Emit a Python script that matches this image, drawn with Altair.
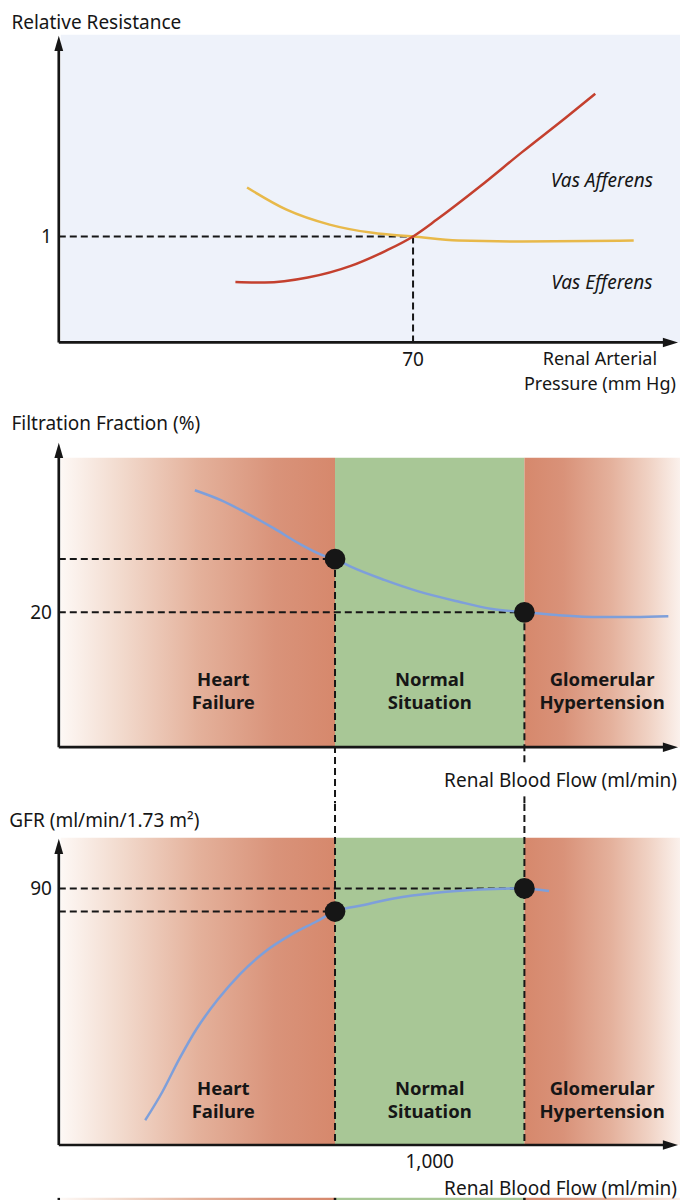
import altair as alt
import pandas as pd

# ================= values =================
# Panel A - relative resistance vs renal arterial pressure (mm Hg)
aff_pressure = [34.9, 40.7, 49.2, 57.7, 64.5, 70.0, 74.7, 83.2, 91.6, 100.1, 106.0]
aff_resistance = [0.571, 0.565, 0.612, 0.722, 0.862, 1.000, 1.159, 1.471, 1.798, 2.118, 2.346]
eff_pressure = [37.2, 45.0, 53.5, 62.0, 70.0, 78.9, 91.6, 113.6]
eff_resistance = [1.462, 1.253, 1.112, 1.034, 1.000, 0.962, 0.953, 0.962]
ref_pressure = 70
ref_resistance = 1

# Panel B - filtration fraction (%) vs renal blood flow (ml/min)
ff_flow = [380, 450, 520, 590, 655, 725, 750, 790, 880, 970, 1075, 1165, 1250, 1335, 1450, 1540, 1630]
ff_value = [38.1, 36.6, 34.6, 32.4, 30.2, 28.3, 27.9, 26.8, 24.8, 23.1, 21.6, 20.5, 20.0, 19.6, 19.3, 19.3, 19.4]

# Panel C - GFR (ml/min/1.73 m2) vs renal blood flow (ml/min)
gfr_flow = [249, 294, 339, 384, 441, 498, 566, 633, 701, 750, 826, 905, 1018, 1131, 1250, 1315]
gfr_value = [8.7, 18.6, 30.2, 40.6, 51.1, 59.8, 67.9, 73.7, 78.4, 81.9, 84.2, 86.5, 88.5, 89.6, 90.0, 89.1]

zone_bounds = [750, 1250]
zone_labels = ["Heart\nFailure", "Normal\nSituation", "Glomerular\nHypertension"]
zone_label_flow = [455, 1000, 1455]
marker_flow = [750, 1250]
marker_ff = [27.9, 20.0]
marker_gfr = [81.9, 90.0]
ff_tick = 20
gfr_tick = 90
flow_tick = 1000

# ================= layout / style =================
REF_W, REF_H = 688.0, 1200.0
W, H = 672.0, 1192.0
KX, KY = W / REF_W, H / REF_H
FONT = "Noto Sans"
INK = "#161616"
BG_A = "#eef2fa"
GREEN = "#a8c796"
BLUE = "#7e9fda"
RED = "#c4402e"
GOLD = "#e8b94a"
DASH = [7, 4]
UP = "M0,0L0.55,1.9L-0.55,1.9Z"
RIGHT = "M0,0L-1.9,-0.6L-1.9,0.6Z"

LEFT_GRAD = alt.Gradient(gradient="linear", x1=0, x2=1, y1=0, y2=0, stops=[
    alt.GradientStop(offset=0, color="#fdf8f5"),
    alt.GradientStop(offset=0.22, color="#f2dacd"),
    alt.GradientStop(offset=0.5, color="#e4b19b"),
    alt.GradientStop(offset=0.78, color="#d9937a"),
    alt.GradientStop(offset=1, color="#d6886c")])
RIGHT_GRAD = alt.Gradient(gradient="linear", x1=0, x2=1, y1=0, y2=0, stops=[
    alt.GradientStop(offset=0, color="#d6886c"),
    alt.GradientStop(offset=0.25, color="#d99279"),
    alt.GradientStop(offset=0.55, color="#e4b09b"),
    alt.GradientStop(offset=0.8, color="#f0d2c4"),
    alt.GradientStop(offset=1, color="#fbf1ec")])


def lin(p0, v0, p1, v1):
    k = (v1 - v0) / (p1 - p0)
    return lambda p: v0 + (p - p0) * k


class Panel:
    def __init__(self, top, bottom, fx, fy):
        self.top, self.bottom, self.fx, self.fy = top, bottom, fx, fy
        self.xs = alt.Scale(domain=[fx(0), fx(REF_W)], nice=False, zero=False)
        self.ys = alt.Scale(domain=[fy(bottom), fy(top)], nice=False, zero=False)
        self.h = (bottom - top) * KY
        self.ox = fx(52)
        self.oy = 0

    def X(self, f):
        return alt.X(f, type="quantitative", scale=self.xs, axis=None)

    def Y(self, f):
        return alt.Y(f, type="quantitative", scale=self.ys, axis=None)


def segs(P, rows, color=INK, width=2.7, dash=None):
    df = pd.DataFrame(rows, columns=["x0", "y0", "x1", "y1"])
    kw = dict(color=color, strokeWidth=width, strokeCap="butt")
    if dash:
        kw["strokeDash"] = dash
    return alt.Chart(df).mark_rule(**kw).encode(
        x=P.X("x0"), x2="x1", y=P.Y("y0"), y2="y1")


def rects(P, rows, fill):
    df = pd.DataFrame(rows, columns=["x0", "x1", "y0", "y1"])
    return alt.Chart(df).mark_rect(fill=fill, strokeWidth=0, opacity=1).encode(
        x=P.X("x0"), x2="x1", y=P.Y("y0"), y2="y1")


def curve(P, xs, ys, color):
    df = pd.DataFrame({"x": xs, "y": ys})
    return alt.Chart(df).mark_line(color=color, strokeWidth=2.5, interpolate="monotone").encode(
        x=P.X("x"), y=P.Y("y"))


def dots(P, xs, ys):
    df = pd.DataFrame({"x": xs, "y": ys})
    return alt.Chart(df).mark_point(filled=True, shape="circle", size=430, color=INK,
                                    opacity=1, strokeWidth=0).encode(x=P.X("x"), y=P.Y("y"))


def arrows(P, xtip, ytip):
    up = pd.DataFrame({"x": [P.ox], "y": [P.fy(ytip)]})
    rt = pd.DataFrame({"x": [P.fx(xtip)], "y": [P.oy]})
    a = alt.Chart(up).mark_point(shape=UP, size=256, filled=True, color=INK, opacity=1,
                                 strokeWidth=0).encode(x=P.X("x"), y=P.Y("y"))
    b = alt.Chart(rt).mark_point(shape=RIGHT, size=256, filled=True, color=INK, opacity=1,
                                 strokeWidth=0).encode(x=P.X("x"), y=P.Y("y"))
    ax = segs(P, [(P.ox, P.oy, P.ox, P.fy(ytip + 9)), (P.ox, P.oy, P.fx(xtip - 9), P.oy)])
    return [ax, a, b]


def texts(P, xs, ys, labels, **style):
    df = pd.DataFrame({"x": xs, "y": ys, "t": labels})
    kw = dict(font=FONT, color=INK, fontSize=19, baseline="alphabetic", align="center")
    kw.update(style)
    return alt.Chart(df).mark_text(**kw).encode(x=P.X("x"), y=P.Y("y"), text="t:N")


def title(text, x, y):
    df = pd.DataFrame({"t": [text]})
    return alt.Chart(df).mark_text(font=FONT, color=INK, fontSize=19, align="left",
                                   baseline="alphabetic").encode(
        x=alt.value(x * KX), y=alt.value(y * KY), text="t:N")


# ---------------- Panel A ----------------
PA = Panel(0, 398, lin(52, 0, 414.7, ref_pressure), lin(336.7, 0, 230, ref_resistance))
layers_a = [
    rects(PA, [(PA.fx(54), PA.fx(REF_W), 0, PA.fy(27))], BG_A),
    segs(PA, [(PA.ox, ref_resistance, ref_pressure, ref_resistance),
              (ref_pressure, ref_resistance, ref_pressure, PA.oy)], width=2, dash=DASH),
    curve(PA, eff_pressure, eff_resistance, GOLD),
    curve(PA, aff_pressure, aff_resistance, RED),
    *arrows(PA, 686, 28),
    title("Relative Resistance", 3.5, 21),
    texts(PA, [PA.ox], [ref_resistance], ["1"], align="right", dx=-7 * KX, dy=6.5 * KY),
    texts(PA, [ref_pressure], [PA.oy], [str(ref_pressure)], dy=24 * KY),
    texts(PA, [PA.fx(606)], [PA.oy], ["Renal Arterial"], dy=23 * KY, fontSize=18),
    texts(PA, [PA.fx(606)], [PA.oy], ["Pressure (mm Hg)"], dy=48 * KY, fontSize=18),
    texts(PA, [PA.fx(608), PA.fx(608)], [PA.fy(180), PA.fy(283.3)],
          ["Vas Afferens", "Vas Efferens"], fontStyle="italic"),
]
chart_a = alt.layer(*layers_a).properties(width=W, height=PA.h)


def zone_layers(P, top_ref, strip=None):
    out = []
    spans = [(P.oy, P.fy(top_ref))]
    if strip:
        spans.append((P.fy(strip[1]), P.fy(strip[0])))
    out.append(rects(P, [(P.fx(54), zone_bounds[0], a, b) for a, b in spans], LEFT_GRAD))
    out.append(rects(P, [(zone_bounds[0], zone_bounds[1], a, b) for a, b in spans], GREEN))
    out.append(rects(P, [(zone_bounds[1], P.fx(REF_W), a, b) for a, b in spans], RIGHT_GRAD))
    return out


# ---------------- Panel B ----------------
fx_flow = lin(334.8, zone_bounds[0], 528.7, zone_bounds[1])
PB = Panel(398, 800, fx_flow, lin(743.5, 0, 607.7, ff_tick))
dash_b = [(PB.ox, v, f, v) for f, v in zip(marker_flow, marker_ff)]
dash_b += [(marker_flow[0], marker_ff[0], marker_flow[0], PB.fy(800)),
           (marker_flow[1], marker_ff[1], marker_flow[1], PB.fy(760)),
           (marker_flow[1], PB.fy(793), marker_flow[1], PB.fy(800))]
layers_b = zone_layers(PB, 452) + [
    segs(PB, dash_b, width=2, dash=DASH),
    curve(PB, ff_flow, ff_value, BLUE),
    dots(PB, marker_flow, marker_ff),
    *arrows(PB, 686, 437),
    title("Filtration Fraction (%)", 3.5, 424 - 398),
    texts(PB, [PB.ox], [ff_tick], [str(ff_tick)], align="right", dx=-7 * KX, dy=6.6 * KY),
    texts(PB, zone_label_flow, [PB.fy(681.7)] * 3, zone_labels, fontWeight="bold",
          fontSize=18.5, lineBreak="\n", lineHeight=23.3 * KY),
    texts(PB, [PB.fx(685)], [PB.oy], ["Renal Blood Flow (ml/min)"], align="right",
          dy=39.8 * KY),
]
chart_b = alt.layer(*layers_b).properties(width=W, height=PB.h)

# ---------------- Panel C ----------------
PC = Panel(800, 1200, fx_flow, lin(1143.3, 0, 885, gfr_tick))
dash_c = [(PC.ox, v, f, v) for f, v in zip(marker_flow, marker_gfr)]
dash_c += [(f, PC.fy(800), f, PC.oy) for f in marker_flow]
strip_c = [(f, PC.fy(1196.5), f, PC.fy(1200)) for f in marker_flow]
strip_c += [(PC.ox, PC.fy(1196.5), PC.ox, PC.fy(1200))]
layers_c = zone_layers(PC, 834, strip=(1196.5, 1200)) + [
    segs(PC, dash_c, width=2, dash=DASH),
    segs(PC, strip_c, width=2.5),
    curve(PC, gfr_flow, gfr_value, BLUE),
    dots(PC, marker_flow, marker_gfr),
    *arrows(PC, 686, 835),
    title("GFR (ml/min/1.73 m\u00b2)", 1.3, 823.3 - 800),
    texts(PC, [PC.ox], [gfr_tick], [str(gfr_tick)], align="right", dx=-7 * KX, dy=6.5 * KY),
    texts(PC, zone_label_flow, [PC.fy(1092.7)] * 3, zone_labels, fontWeight="bold",
          fontSize=18.5, lineBreak="\n", lineHeight=23.3 * KY),
    texts(PC, [flow_tick], [PC.oy], [f"{flow_tick:,}"], dy=(1166 - 1143.3) * KY),
    texts(PC, [PC.fx(685)], [PC.oy], ["Renal Blood Flow (ml/min)"], align="right",
          dy=(1194 - 1143.3) * KY),
]
chart_c = alt.layer(*layers_c).properties(width=W, height=PC.h)

chart = alt.vconcat(chart_a, chart_b, chart_c, spacing=0, bounds="flush", padding=0) \
    .configure(font=FONT) \
    .configure_view(strokeWidth=0)

chart.save("out.html", embed_options={"renderer": "svg", "actions": False})
